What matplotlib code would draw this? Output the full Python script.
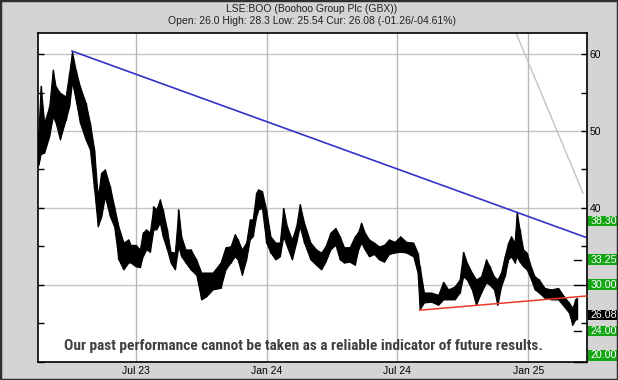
import matplotlib
matplotlib.use("Agg")
import matplotlib.pyplot as plt
import matplotlib.dates as mdates
import matplotlib.transforms as mtransforms
from matplotlib import font_manager
from matplotlib.patches import Rectangle
import numpy as np
import datetime as dt

# ---------------- data ----------------
base_date = dt.date(2023, 7, 1)
day_offsets = [-136, -133, -128, -121, -116, -112, -106, -98, -93, -89, -84, -78, -70, -64,
               -58, -53, -48, -43, -36, -30, -24, -17, -10, -7, 0, 6, 10, 15, 20, 25, 29,
               34, 38, 44, 49, 55, 60, 64, 70, 77, 85, 92, 99, 108, 119, 126, 133, 139,
               143, 149, 155, 160, 164, 169, 172, 177, 183, 189, 196, 202, 207, 212, 219,
               225, 230, 236, 245, 253, 260, 266, 273, 280, 286, 292, 300, 307, 312, 316,
               321, 327, 334, 341, 348, 355, 363, 371, 379, 389, 395, 398, 404, 414, 424,
               431, 438, 447, 454, 459, 464, 471, 477, 484, 491, 496, 502, 507, 512, 517,
               522, 526, 531, 534, 538, 543, 548, 554, 559, 565, 573, 582, 592, 600, 607,
               612, 616, 618]
price_low = [45.6, 47.0, 47.2, 49.3, 51.9, 51.1, 48.9, 51.5, 53.2, 56.4, 54.1, 51.1, 48.9, 47.6,
             42.4, 37.6, 38.9, 41.5, 38.9, 37.6, 33.3, 32.0, 32.9, 32.9, 32.4, 32.3, 33.7, 34.6,
             34.3, 37.2, 37.2, 38.1, 36.3, 34.6, 32.9, 32.0, 35.0, 33.7, 32.9, 32.0, 31.3, 28.1,
             28.5, 29.4, 29.6, 32.0, 32.9, 33.7, 33.3, 31.3, 33.3, 35.9, 36.3, 38.9, 39.8, 40.0,
             35.5, 34.2, 33.3, 33.7, 36.3, 35.0, 33.3, 35.5, 37.6, 35.5, 33.3, 32.6, 32.0, 33.0,
             34.6, 35.2, 33.3, 32.9, 33.0, 32.6, 34.6, 35.5, 34.6, 33.7, 34.0, 33.3, 33.0, 34.0,
             34.2, 34.3, 34.2, 33.7, 31.6, 26.8, 27.7, 27.8, 27.4, 28.1, 28.1, 28.1, 29.0, 31.1,
             30.7, 29.4, 27.4, 29.0, 30.3, 30.0, 29.4, 27.4, 29.8, 31.1, 33.3, 33.7, 32.9, 33.7,
             33.0, 32.4, 32.0, 30.7, 29.4, 29.0, 28.3, 28.1, 28.1, 27.2, 26.4, 24.8, 25.5, 25.5]
price_high = [50.0, 55.9, 51.1, 53.2, 58.0, 55.8, 55.0, 54.5, 57.6, 60.3, 58.0, 55.8, 53.7, 51.1,
              47.6, 41.5, 44.6, 45.0, 42.8, 40.2, 37.6, 35.5, 35.9, 35.2, 35.2, 34.6, 36.8, 37.2,
              36.8, 40.2, 39.8, 41.1, 39.8, 37.2, 34.3, 34.2, 39.8, 36.3, 34.6, 34.6, 33.3, 31.6,
              31.6, 31.6, 32.9, 34.9, 35.0, 36.6, 35.9, 34.6, 35.5, 38.5, 38.5, 42.0, 42.4, 42.2,
              39.8, 36.3, 35.5, 35.5, 40.0, 37.6, 35.9, 37.6, 40.5, 38.1, 35.5, 34.6, 34.2, 35.0,
              36.8, 37.4, 36.3, 34.9, 34.9, 36.3, 36.9, 38.1, 36.8, 35.9, 35.5, 35.0, 35.2, 35.9,
              35.6, 36.3, 35.6, 35.5, 34.2, 32.4, 29.0, 29.0, 28.7, 30.4, 29.4, 29.8, 30.7, 34.3,
              32.9, 31.6, 30.7, 31.1, 33.3, 32.4, 31.1, 30.7, 31.6, 33.7, 35.5, 36.3, 35.5, 39.5,
              37.2, 34.6, 34.2, 32.3, 31.1, 30.7, 29.6, 29.4, 29.6, 28.5, 27.7, 27.0, 28.1, 28.3]

# trend lines (day offset, price)
blue_line_days = [-89, 630]
blue_line_prices = [60.4, 36.2]
red_line_days = [398, 632]
red_line_prices = [26.7, 28.55]
grey_line_days = [533, 627]
grey_line_prices = [62.75, 41.9]

x_tick_dates = [dt.date(2023, 7, 1), dt.date(2024, 1, 1), dt.date(2024, 7, 1), dt.date(2025, 1, 1)]
x_tick_labels = ["Jul 23", "Jan 24", "Jul 24", "Jan 25"]

green_levels = [38.30, 33.25, 30.00, 24.00, 20.00]
green_labels = ["38.30", "33.25", "30.00", "24.00", "20.00"]
current_level = 26.08
current_label = "26.08"
dash_levels = [33.25, 30.00, 24.00, 20.00]

title_line1 = "LSE:BOO (Boohoo Group Plc (GBX))"
title_line2 = "Open: 26.0 High: 28.3 Low: 25.54 Cur: 26.08 (-01.26/-04.61%)"
disclaimer = "Our past performance cannot be taken as a reliable indicator of future results."

# ---------------- figure ----------------
def to_num(offsets):
    return [mdates.date2num(base_date + dt.timedelta(days=int(d))) for d in offsets]

W, H = 618, 380
fig = plt.figure(figsize=(W / 100, H / 100), dpi=100)
fig.patch.set_facecolor("#d4d4d4")
plt.rcParams["font.family"] = ["Liberation Sans", "DejaVu Sans"]

left, right, top, bottom = 38, 586.7, 33, 361.7
ax = fig.add_axes([left / W, 1 - bottom / H, (right - left) / W, (bottom - top) / H])
ax.set_facecolor("white")

x_prices = to_num(day_offsets)
ax.fill_between(x_prices, price_low, price_high, color="black", lw=0.8, zorder=3)
ax.vlines(x_prices, price_low, price_high, color="black", lw=1.0, zorder=3)

ax.plot(to_num(blue_line_days), blue_line_prices, color="#3333cc", lw=1.2, zorder=4)
ax.plot(to_num(red_line_days), red_line_prices, color="#e8392a", lw=1.1, zorder=4, clip_on=False)
ax.plot(to_num(grey_line_days), grey_line_prices, color="#c8c2b8", lw=1.0, zorder=2)

xmin = mdates.date2num(base_date) - 136.7
xmax = mdates.date2num(base_date) + 632
ax.set_xlim(xmin, xmax)
ax.set_ylim(20, 62.75)

for lvl in [30, 40, 50, 60]:
    ax.axhline(lvl, color="#c4c4c4", lw=1.0, zorder=1)
tick_nums = [mdates.date2num(d) for d in x_tick_dates]
for xv in tick_nums:
    ax.axvline(xv, color="#b8b8b8", lw=1.0, zorder=1)

ax.set_xticks(tick_nums)
ax.set_xticklabels(x_tick_labels, fontsize=7.5)
ax.tick_params(axis="x", length=0, pad=3)

ax.set_yticks(np.arange(20, 61, 5))
ax.set_yticklabels(["" if v not in (40, 50, 60) else str(v) for v in np.arange(20, 61, 5)])
ax.tick_params(axis="y", left=True, right=True, labelleft=False, labelright=True,
               direction="in", length=4, width=1, labelsize=7.5, pad=2)

for sp in ax.spines.values():
    sp.set_color("black")
    sp.set_linewidth(1.2)

trans = mtransforms.blended_transform_factory(ax.transAxes, ax.transData)
box_h = 1.4
for lvl, lab in zip(green_levels, green_labels):
    yc = max(lvl, 20 + box_h / 2 + 0.15)
    ax.add_patch(Rectangle((1.002, yc - box_h / 2), 0.08, box_h, transform=trans,
                           facecolor="#14a514", edgecolor="none", clip_on=False, zorder=5))
    ax.text(1.007, yc, lab, transform=trans, ha="left", va="center", color="white",
            fontsize=7.7, clip_on=False, zorder=6)
ax.add_patch(Rectangle((1.002, current_level - box_h / 2), 0.08, box_h, transform=trans,
                       facecolor="black", edgecolor="none", clip_on=False, zorder=5))
ax.text(1.007, current_level, current_label, transform=trans, ha="left", va="center",
        color="white", fontsize=7.7, clip_on=False, zorder=6)

for lvl in dash_levels:
    ax.plot([0.976, 0.99], [lvl, lvl], transform=trans, color="black", lw=1.0, zorder=4,
            clip_on=False)

fig.text(312 / W, 1 - 9 / H, title_line1, ha="center", va="center", fontsize=7.5, color="#202020")
fig.text(312 / W, 1 - 21 / H, title_line2, ha="center", va="center", fontsize=7.5, color="#202020")

# narrow bold disclaimer: choose a condensed family if installed, then fit width
cands = ["Liberation Sans Narrow", "Roboto Condensed", "Open Sans Condensed", "DejaVu Sans Condensed",
         "Roboto", "Liberation Sans"]
fam = "Liberation Sans"
for c in cands:
    try:
        font_manager.findfont(font_manager.FontProperties(family=c, weight="bold"),
                              fallback_to_default=False)
        fam = c
        break
    except Exception:
        continue
disc = fig.text(303 / W, 1 - 346 / H, disclaimer, ha="center", va="center", fontsize=11,
                fontweight="bold", color="#404040", family=[fam, "DejaVu Sans"])
renderer = fig.canvas.get_renderer()
wpx = disc.get_window_extent(renderer).width
disc.set_fontsize(11 * 481.0 / wpx)

fig.patches.append(Rectangle((0, 0), 1, 1, transform=fig.transFigure, fill=False,
                             edgecolor="#303030", lw=2.5))

fig.savefig("out.png", dpi=100, facecolor=fig.get_facecolor())
